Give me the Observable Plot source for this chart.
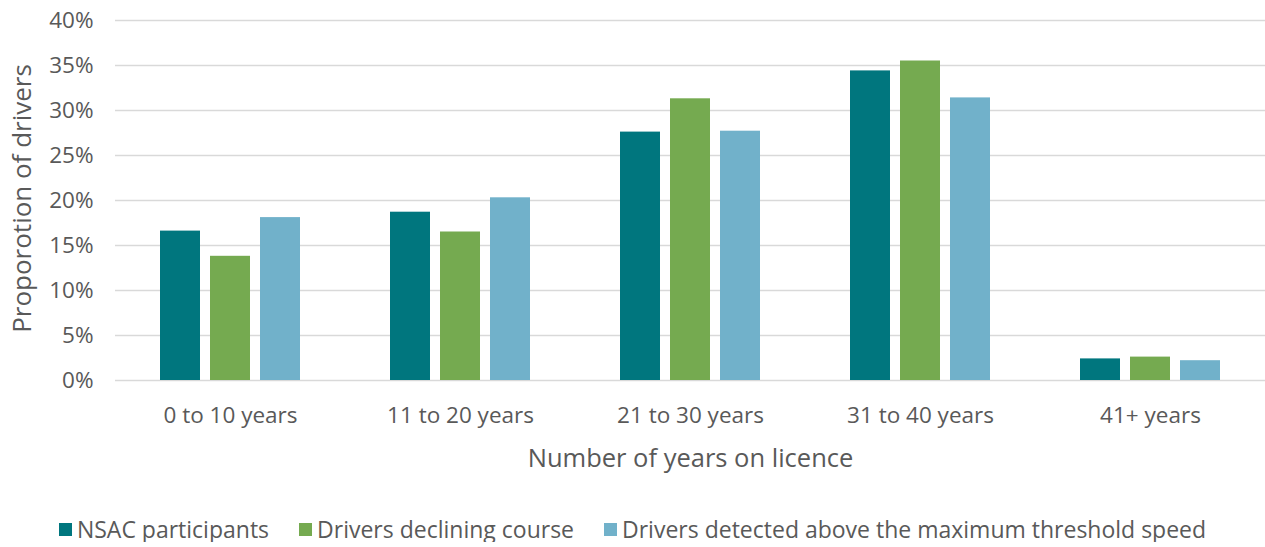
<!DOCTYPE html>
<html><head><meta charset="utf-8">
<script src="https://cdn.jsdelivr.net/npm/d3@7"></script>
<script src="https://cdn.jsdelivr.net/npm/@observablehq/plot@0.6"></script>
<style>
body{margin:0;background:#fff;font-family:"Open Sans",sans-serif;}
#legend{display:flex;justify-content:center;gap:30px;font-size:23px;line-height:26px;color:#595959;margin-top:36px;}
#legend .item{display:flex;align-items:center;}
#legend .sw{width:13px;height:13px;margin-right:5px;display:inline-block;}
</style></head><body><div id="chart"></div><div id="legend"></div>
<script>
const groups = ["0 to 10 years","11 to 20 years","21 to 30 years","31 to 40 years","41+ years"];
const seriesNames = ["NSAC participants","Drivers declining course","Drivers detected above the maximum threshold speed"];
const nsac = [16.6,18.7,27.6,34.4,2.4];
const declining = [13.8,16.5,31.3,35.5,2.6];
const detected = [18.1,20.3,27.7,31.4,2.2];
const colors = ["#00767E","#75AA50","#71B1CA"];
const yTicks = [0,5,10,15,20,25,30,35,40];

const seriesValues = [nsac, declining, detected];
const data = [];
groups.forEach((g,i)=>seriesNames.forEach((s,j)=>data.push({group:g,series:s,value:seriesValues[j][i]})));

const chart = Plot.plot({
  width:1265, height:480,
  marginLeft:115, marginRight:0, marginTop:20, marginBottom:100,
  style:{fontFamily:"'Open Sans',sans-serif", color:"#595959", background:"#fff"},
  fx:{domain:groups, padding:0},
  x:{domain:seriesNames, paddingInner:0.2, paddingOuter:0.877, axis:null},
  y:{domain:[0,40]},
  color:{domain:seriesNames, range:colors},
  marks:[
    Plot.ruleY(yTicks,{stroke:"#d9d9d9", strokeWidth:1.5}),
    Plot.barY(data,{fx:"group", x:"series", y:"value", fill:"series"}),
    Plot.axisY({ticks:yTicks, tickFormat:d=>d+"%", tickSize:0, tickPadding:22, fontSize:22.5,
      label:null}),
    Plot.axisFx({anchor:"bottom", tickSize:0, tickPadding:27, fontSize:22.5, label:null}),
    Plot.text(["Proporotion of drivers"], {frameAnchor:"left", dx:-93, dy:-2, rotate:-90, textAnchor:"middle", fontSize:26, fill:"#595959", facet:"super"}),
    Plot.text(["Number of years on licence"], {frameAnchor:"bottom", dy:86, fontSize:25.5, fill:"#595959", facet:"super"})
  ]
});
document.getElementById("chart").appendChild(chart);

const leg = document.getElementById("legend");
seriesNames.forEach((s,i)=>{
  const it = document.createElement("div"); it.className="item";
  const sw = document.createElement("span"); sw.className="sw"; sw.style.background=colors[i];
  it.appendChild(sw); it.appendChild(document.createTextNode(s)); leg.appendChild(it);
});
</script></body></html>
